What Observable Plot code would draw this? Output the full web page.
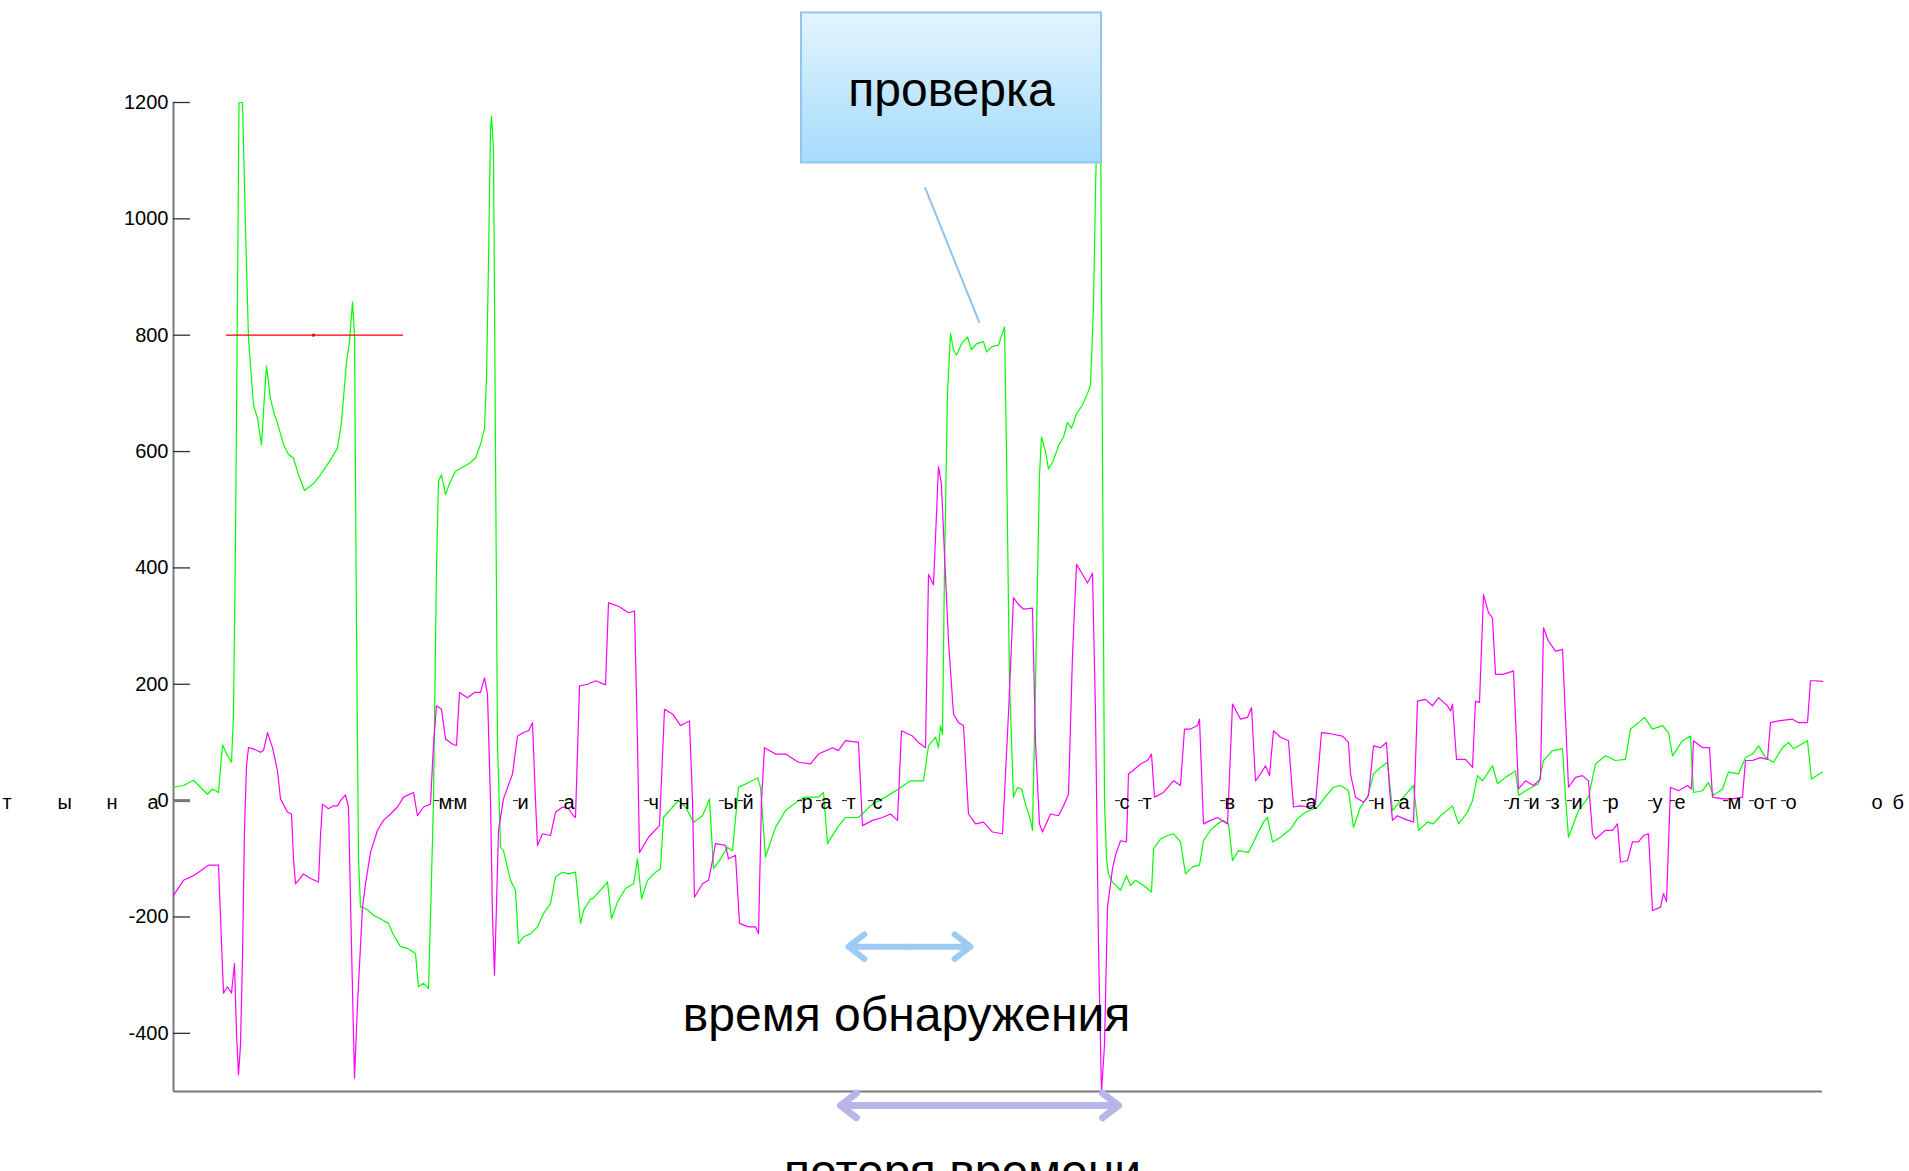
<!DOCTYPE html>
<html>
<head>
<meta charset="utf-8">
<script src="https://cdn.jsdelivr.net/npm/d3@7"></script>
<script src="https://cdn.jsdelivr.net/npm/@observablehq/plot@0.6"></script>
<style>
  html, body { margin: 0; padding: 0; background: #fff; }
  #chart { width: 1909px; height: 1171px; }
</style>
</head>
<body>
<div id="chart"></div>
<script>
// ---------- data (time in samples, value in signal units) ----------
const greenT = [0,10,20,27,34,39,45,49,54,58,60,62,64,65.5,69,72,75,78,80,84,88,91,93,97,101,104,110,115,120,125,131,140,147,156,164,168,173,176,179,181,183,185,187,189,195,200,210,215,220,227,234,242,245,250,255,257,260,263,265,268,272,276,282,290,296,302,307,311,313,315,317,318,320,322,324,327,330,337,342,345,350,357,364,370,377,382,389,395,402,407,410,417,419,427,434,438,444,452,460,464,468,474,482,487,490,499,505,512,520,529,536,540,547,554,559,565,575,584,587,592,602,612,625,632,645,650,654,664,672,685,699,712,725,737,750,755,762,765,767,769,771,774,777,780,783,788,794,798,803,810,813,818,825,831,833,836,840,844,848,852,857,859,862,866,868,872,875,880,885,890,894,898,903,909,914,917,920,922,924,927,929,931,933,935,939,947,953,957,962,970,978,980,987,994,1000,1007,1012,1019,1026,1030,1037,1044,1050,1055,1059,1065,1075,1084,1090,1094,1099,1107,1117,1124,1132,1144,1154,1160,1167,1175,1180,1187,1194,1200,1207,1214,1219,1227,1240,1245,1254,1260,1267,1279,1285,1294,1299,1304,1309,1319,1324,1332,1342,1345,1355,1365,1370,1379,1389,1392,1395,1405,1415,1422,1432,1442,1452,1457,1465,1471,1479,1489,1495,1499,1509,1517,1520,1529,1535,1540,1549,1555,1565,1572,1579,1585,1592,1600,1609,1615,1620,1634,1638,1649];
const greenV = [23,26,35,23,11,20,14,96,77,66,149,450,871,1200,1200,983,794,726,680,657,612,697,747,691,663,649,612,595,589,560,533,545,560,583,606,651,754,789,857,800,300,-100,-183,-183,-189,-197,-206,-211,-231,-251,-254,-263,-320,-314,-323,-200,0,400,549,560,526,545,566,574,580,589,612,640,726,926,1154,1176,1120,600,100,-80,-86,-137,-154,-246,-234,-229,-217,-194,-177,-131,-123,-126,-123,-211,-189,-169,-169,-154,-140,-203,-174,-151,-143,-100,-169,-137,-123,-117,-29,-11,0,-11,-37,-26,3,-117,-100,-80,-86,23,31,39,23,-97,-46,-17,0,6,6,14,-74,-46,-29,-29,-6,6,20,34,34,94,109,91,129,114,400,700,803,775,766,785,797,775,785,789,771,780,783,814,600,200,6,23,20,-6,-34,-51,200,560,625,600,570,585,610,625,650,640,665,680,700,714,850,1050,1200,1200,600,0,-100,-126,-140,-154,-129,-146,-137,-146,-157,-83,-66,-60,-57,-71,-126,-114,-111,-69,-51,-40,-34,-40,-103,-86,-89,-57,-37,-29,-71,-63,-49,-31,-20,-11,11,23,26,17,-46,-11,6,46,57,66,-17,0,26,-51,-37,-40,-26,-9,-40,-20,0,43,34,60,29,40,51,9,20,29,69,86,89,6,-63,-17,6,63,77,69,71,123,134,143,123,129,117,77,103,111,14,17,31,9,20,49,46,74,80,94,74,66,91,100,89,103,37,49];

const magentaT = [0,10,20,30,35,45,47,50,54,58,61,63,65,67,69,71,73,75,80,87,90,94,99,104,107,114,118,120,122,126,130,137,145,147,149,155,160,164,167,172,175,178,181,184,189,192,197,204,210,217,224,230,240,244,250,257,260,263,268,272,280,283,286,294,301,307,311,314,317,319,321,323,325,330,339,344,350,355,359,362,364,369,377,382,389,395,400,402,406,414,422,432,435,445,455,461,464,466,475,486,491,499,507,516,519,521,529,535,539,542,552,555,562,566,575,582,585,588,591,602,612,625,637,645,659,665,672,685,689,699,709,717,724,728,739,745,752,755,760,765,768,771,775,780,785,790,795,802,810,819,829,835,840,845,850,859,862,866,869,877,885,890,895,899,903,909,914,919,922,925,928,931,934,939,942,947,953,955,959,967,974,978,981,990,1000,1007,1011,1017,1024,1026,1030,1037,1044,1054,1059,1067,1074,1078,1082,1087,1092,1096,1100,1107,1115,1120,1127,1134,1142,1148,1157,1169,1175,1177,1182,1190,1195,1200,1207,1213,1216,1219,1224,1230,1240,1244,1252,1259,1265,1274,1277,1279,1283,1292,1299,1302,1306,1310,1315,1319,1322,1329,1335,1340,1345,1352,1360,1367,1370,1375,1382,1389,1395,1402,1409,1415,1419,1422,1432,1439,1444,1447,1454,1459,1465,1470,1475,1479,1487,1490,1493,1497,1505,1514,1518,1520,1529,1536,1539,1549,1559,1569,1572,1579,1587,1594,1597,1605,1619,1625,1634,1637,1642,1649];
const magentaV = [-163,-137,-129,-117,-111,-111,-200,-331,-320,-331,-280,-400,-471,-420,-269,-50,60,91,89,83,86,117,91,51,3,-20,-23,-100,-143,-135,-126,-134,-140,-60,-6,-14,-9,-9,0,10,-11,-250,-477,-350,-183,-143,-89,-51,-34,-23,-11,6,14,-26,-11,-6,97,163,157,106,96,95,186,177,186,186,211,183,0,-200,-300,-180,-51,3,46,111,117,120,134,0,-77,-57,-60,-20,-11,-14,-26,-29,197,200,206,199,340,334,323,326,100,-89,-63,-43,157,149,129,137,0,-166,-143,-137,-103,-74,-77,-100,-94,-211,-217,-217,-229,0,91,80,80,66,63,80,91,86,103,100,-43,-34,-29,-23,-34,120,111,100,91,389,371,574,543,423,274,149,134,129,-23,-40,-37,-54,-57,150,349,337,329,331,100,-40,-54,-23,-26,-9,11,250,406,389,374,391,150,-250,-500,-420,-183,-117,-94,-69,-71,46,51,63,69,80,6,14,34,26,123,123,129,140,-40,-34,-29,-40,166,140,143,160,34,46,60,43,120,109,103,-11,-9,-11,-6,117,115,111,100,46,6,-3,9,94,91,100,20,-34,-26,-31,-37,171,174,163,177,163,154,166,71,71,57,171,169,354,323,314,217,217,220,223,20,34,26,37,297,274,257,260,23,40,43,34,-57,-66,-51,-51,-40,-106,-103,-71,-71,-60,-57,-189,-183,-160,-174,23,17,26,20,103,91,91,6,3,3,6,69,69,74,71,134,137,140,134,134,206,206,205];

// red threshold segment with its marker
const thresholdT = [53, 229];
const thresholdV = [800, 800];
const thresholdMarkT = [140];

// y-axis ticks
const yTicks = [-400, -200, 0, 200, 400, 600, 800, 1000, 1200];

// x tick labels (letters) and their positions
const letterT = [-171,-116,-67,-26,265,280,344,390,475,505,550,569,628,647,673,699,946,969,1051,1089,1132,1200,1225,1335,1355,1377,1398,1434,1479,1501,1554,1580,1596,1612,1698,1719];
const letterCh = ["т","ы","н","а","м","м","и","а","ч","н","ы","й","р","а","т","с","с","т","в","р","а","н","а","л","и","з","и","р","у","е","м","о","г","о","о","б"];

// annotations
const noteBox = [{x1: 628, x2: 928, y1: 1096, y2: 1354}];
const noteBoxLabel = [{x: 778, y: 1221, text: "проверка"}];
const noteLeader = [{x1: 751.5, y1: 1054, x2: 806, y2: 821}];
const detectArrow = {x1: 675, x2: 797, y: -251};
const lossArrow = {x1: 667, x2: 945, y: -524};
const noteTexts = [
  {x: 733, y: -369, text: "время обнаружения"},
  {x: 789, y: -639, text: "потеря времени"}
];

// ---------- build ----------
const green = greenT.map((t, i) => ({t, v: greenV[i]}));
const magenta = magentaT.map((t, i) => ({t, v: magentaV[i]}));
const threshold = thresholdT.map((t, i) => ({t, v: thresholdV[i]}));
const thresholdMark = thresholdMarkT.map(t => ({t, v: 800}));
const letters = letterT.map((t, i) => ({t, ch: letterCh[i]}));
const xMin = 0, xMax = 1649;
const lettersInside = letters.filter(d => d.t >= xMin && d.t <= xMax);
const halfArrows = (a) => {
  const m = (a.x1 + a.x2) / 2;
  return [{x1: m, x2: a.x1, y: a.y}, {x1: m, x2: a.x2, y: a.y}];
};

const FONT = "'Liberation Sans', Arial, Helvetica, sans-serif";

const plot = Plot.plot({
  width: 1909,
  height: 1171,
  marginLeft: 173,
  marginRight: 87,
  marginTop: 102,
  marginBottom: 80,
  style: {fontFamily: FONT, fontSize: "20px", background: "#fff", color: "#000", overflow: "visible"},
  x: {domain: [xMin, xMax], axis: null},
  y: {domain: [-500, 1200], axis: null},
  marks: [
    // axes frame
    Plot.ruleX([xMin], {stroke: "#7a7a7a", strokeWidth: 2}),
    Plot.ruleY([-500], {stroke: "#7a7a7a", strokeWidth: 2}),
    Plot.ruleY(yTicks.filter(d => d !== 0), {y: d => d, x1: xMin, x2: xMin + 17, stroke: "#333", strokeWidth: 1.3}),
    Plot.ruleY([0], {x1: xMin, x2: xMin + 17, stroke: "#777", strokeWidth: 3}),
    Plot.axisY({ticks: yTicks, tickSize: 0, tickPadding: 5, fontSize: 20, label: null, tickFormat: d => String(d)}),
    // series
    Plot.line(green, {x: "t", y: "v", stroke: "#00ff00", strokeWidth: 1.2}),
    Plot.line(magenta, {x: "t", y: "v", stroke: "#ff00ff", strokeWidth: 1.2}),
    Plot.line(threshold, {x: "t", y: "v", stroke: "#ff0000", strokeWidth: 1.3}),
    Plot.dot(thresholdMark, {x: "t", y: "v", r: 1.6, fill: "#ff0000"}),
    // letter tick labels on the zero line
    Plot.ruleY(lettersInside, {y: () => 0, x1: d => d.t - 4, x2: d => d.t + 1, stroke: "#222", strokeWidth: 1}),
    Plot.text(letters, {x: "t", y: () => 0, text: "ch", textAnchor: "start", fontSize: 20, dy: 2, fill: "#000"}),
    // annotations
    Plot.rect(noteBox, {x1: "x1", x2: "x2", y1: "y1", y2: "y2", fill: "url(#boxGrad)", stroke: "#93c5ee", strokeWidth: 2, ariaLabel: "note-box"}),
    Plot.text(noteBoxLabel, {x: "x", y: "y", text: "text", fontSize: 48, textAnchor: "middle", fill: "#000"}),
    Plot.link(noteLeader, {x1: "x1", y1: "y1", x2: "x2", y2: "y2", stroke: "#8fc3ef", strokeWidth: 2}),
    Plot.arrow(halfArrows(detectArrow), {x1: "x1", x2: "x2", y1: "y", y2: "y", stroke: "#9ccbf5", strokeWidth: 6, headLength: 5, headAngle: 75, strokeLinecap: "round", strokeLinejoin: "round", ariaLabel: "arrow-detect"}),
    Plot.arrow(halfArrows(lossArrow), {x1: "x1", x2: "x2", y1: "y", y2: "y", stroke: "#b6b6e8", strokeWidth: 7, headLength: 4.3, headAngle: 75, strokeLinecap: "round", strokeLinejoin: "round", ariaLabel: "arrow-loss"}),
    Plot.text(noteTexts, {x: "x", y: "y", text: "text", fontSize: 48, textAnchor: "middle", fill: "#000"})
  ]
});

// gradient definition for the callout box
const ns = "http://www.w3.org/2000/svg";
const defs = document.createElementNS(ns, "defs");
defs.innerHTML = `
  <linearGradient id="boxGrad" x1="0" y1="0" x2="0" y2="1">
    <stop offset="0" stop-color="#e2f5fe"/>
    <stop offset="1" stop-color="#a6dbfb"/>
  </linearGradient>`;
plot.insertBefore(defs, plot.firstChild);
plot.querySelectorAll('g[aria-label="note-box"]').forEach(g => g.style.filter = "drop-shadow(2px 4px 3px rgba(0,0,0,0.35))");
plot.querySelectorAll('g[aria-label="arrow-detect"], g[aria-label="arrow-loss"]').forEach(g => g.style.filter = "drop-shadow(3px 5px 3px rgba(0,0,0,0.3))");

document.getElementById("chart").appendChild(plot);
</script>
</body>
</html>
